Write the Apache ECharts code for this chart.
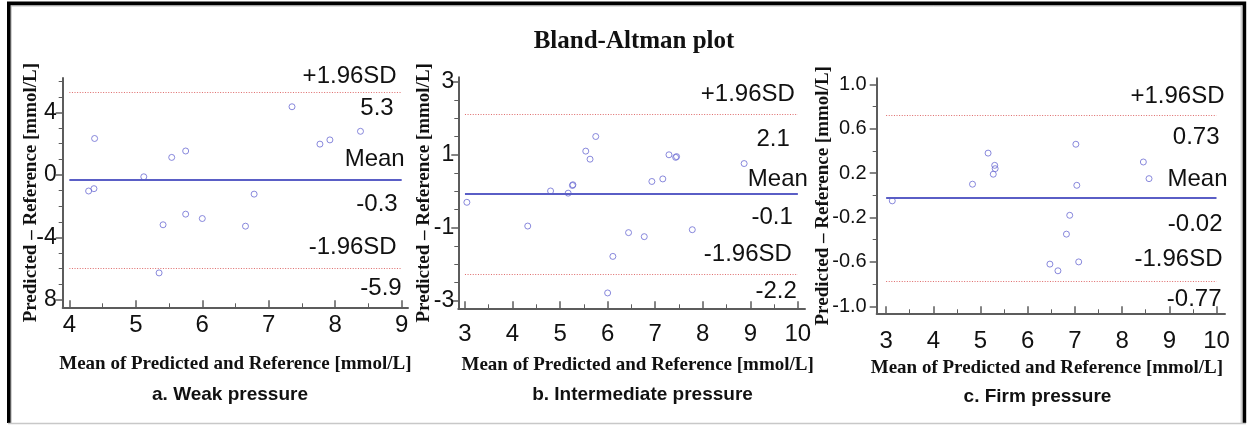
<!DOCTYPE html>
<html><head><meta charset="utf-8">
<script src="https://cdn.jsdelivr.net/npm/echarts@6/dist/echarts.min.js"></script>
<style>html,body{margin:0;padding:0;background:#fff}#c{width:1252px;height:425px}</style>
</head><body><div id="c"></div>
<script>
// ---------- data ----------
const panelTitles = ['a. Weak pressure', 'b. Intermediate pressure', 'c. Firm pressure'];
const limitNames = ['+1.96SD', 'Mean', '-1.96SD'];

const meanA = [4.38, 4.29, 4.37, 5.12, 5.54, 5.75, 5.75, 6.00, 6.78, 7.35, 7.77, 7.92, 8.38, 5.41, 6.65, 5.35];
const diffA = [2.33, -1.03, -0.88, -0.12, 1.12, 1.53, -2.51, -2.79, -1.23, 4.36, 1.97, 2.24, 2.79, -3.19, -3.28, -6.27];
const limitsA = [5.28, -0.32, -5.94];
const limitTextA = ['5.3', '-0.3', '-5.9'];
const xTicksA = [4, 5, 6, 7, 8, 9];
const xMinorA = [4.5, 5.5, 6.5, 7.5, 8.5];
const yTicksA = [4, 0, -4, -8];
const yTickTextA = ['4', '0', '-4', '8'];
const yMinorA = [6, 5, 3, 2, 1, -1, -2, -3, -5, -6, -7];

const meanB = [5.75, 5.54, 5.63, 7.29, 7.43, 7.45, 8.87, 6.93, 7.16, 4.80, 5.17, 5.27, 5.26, 3.04, 4.32, 6.44, 6.77, 7.78, 6.11, 6.00];
const diffB = [1.50, 1.10, 0.88, 1.00, 0.93, 0.95, 0.76, 0.27, 0.34, 0.01, -0.05, 0.18, 0.16, -0.30, -0.95, -1.13, -1.24, -1.05, -1.78, -2.78];
const limitsB = [2.10, -0.07, -2.26];
const limitTextB = ['2.1', '-0.1', '-2.2'];
const xTicksB = [3, 4, 5, 6, 7, 8, 9, 10];
const xMinorB = [3.5, 4.5, 5.5, 6.5, 7.5, 8.5, 9.5];
const yTicksB = [3, 1, -1, -3];
const yTickTextB = ['3', '1', '-1', '-3'];
const yMinorB = [2.5, 2, 1.5, 0.5, 0, -0.5, -1.5, -2, -2.5];

const meanC = [5.16, 5.30, 5.31, 5.27, 4.83, 7.02, 7.04, 8.45, 8.57, 3.13, 6.89, 6.82, 6.47, 6.64, 7.08];
const diffC = [0.38, 0.27, 0.24, 0.19, 0.10, 0.46, 0.09, 0.30, 0.15, -0.05, -0.18, -0.35, -0.62, -0.68, -0.60];
const limitsC = [0.72, -0.02, -0.77];
const limitTextC = ['0.73', '-0.02', '-0.77'];
const xTicksC = [3, 4, 5, 6, 7, 8, 9, 10];
const xMinorC = [3.5, 4.5, 5.5, 6.5, 7.5, 8.5, 9.5];
const yTicksC = [1.0, 0.6, 0.2, -0.2, -0.6, -1.0];
const yTickTextC = ['1.0', '0.6', '0.2', '-0.2', '-0.6', '-1.0'];
const yMinorC = [0.8, 0.4, 0, -0.4, -0.8];

const xName = 'Mean of Predicted and Reference [mmol/L]';
const yName = 'Predicted \u2013 Reference [mmol/L]';

// ---------- layout / style ----------
// label offsets (px): [name above upper, value below upper, name above mean, value below mean, name above lower, value below lower]
const panels = [
  {mean: meanA, diff: diffA, limits: limitsA, limitText: limitTextA, xT: xTicksA, xM: xMinorA, yT: yTicksA, yTT: yTickTextA, yM: yMinorA,
   grid: {left: 62.7, top: 78, width: 345.3, height: 229.3}, xr: [3.90, 9.095], yr: [-8.47, 6.2],
   xLabMargin: 6, yLabMargin: 6, yLabSize: 23, xNameGap: 47, yNameGap: 22, xNamePad: 0, title: [230, 395],
   labOff: [[3, 4], [0, -4], [11, -1], [4, 4], [3, 0], [8, 1]]},
  {mean: meanB, diff: diffB, limits: limitsB, limitText: limitTextB, xT: xTicksB, xM: xMinorB, yT: yTicksB, yTT: yTickTextB, yM: yMinorB,
   grid: {left: 458.3, top: 77.3, width: 346.7, height: 231}, xr: [2.86, 10.15], yr: [-3.2, 3.12],
   xLabMargin: 14, yLabMargin: 4, yLabSize: 23, xNameGap: 47, yNameGap: 25, xNamePad: 12, title: [642.5, 395],
   labOff: [[5, 0], [0, 5], [18, 5], [3, 3], [2, 0], [7, -3]]},
  {mean: meanC, diff: diffC, limits: limitsC, limitText: limitTextC, xT: xTicksC, xM: xMinorC, yT: yTicksC, yTT: yTickTextC, yM: yMinorC,
   grid: {left: 876.7, top: 78.3, width: 348.3, height: 235}, xr: [2.8, 10.18], yr: [-1.063, 1.054],
   xLabMargin: 16, yLabMargin: 10, yLabSize: 20, xNameGap: 45, yNameGap: 44, xNamePad: -8, title: [1037.5, 396.7],
   labOff: [[16, 1], [11, 2], [19, 2], [14, 7], [14, -1], [13, -1]]}
];

const AX = '#5c5c5c';
const TXT = '#111111';
const SANS = '"Liberation Sans", Arial, sans-serif';
const SERIF = '"Liberation Serif", "Times New Roman", serif';

const grids = [], xAxes = [], yAxes = [], series = [], graphics = [];

panels.forEach((p, i) => {
  grids.push(Object.assign({containLabel: false}, p.grid));
  const lookup = (vals, texts) => v => {
    for (let k = 0; k < vals.length; k++) if (Math.abs(vals[k] - v) < 1e-6) return texts[k];
    return '';
  };
  xAxes.push({
    type: 'value', gridIndex: i, min: p.xr[0], max: p.xr[1], position: 'bottom',
    axisLine: {show: true, onZero: false, lineStyle: {color: AX, width: 2}},
    axisTick: {show: true, inside: true, length: 7, customValues: p.xT, lineStyle: {color: AX, width: 1.5}},
    axisLabel: {show: true, customValues: p.xT, margin: p.xLabMargin, fontSize: 24, color: TXT, fontFamily: SANS},
    splitLine: {show: false},
    name: xName, nameLocation: 'middle', nameGap: p.xNameGap, nameMoveOverlap: false,
    nameTextStyle: {fontFamily: SERIF, fontWeight: 'bold', fontSize: 19, color: TXT,
      padding: p.xNamePad >= 0 ? [0, 0, 0, p.xNamePad] : [0, -p.xNamePad, 0, 0]}
  });
  xAxes.push({
    type: 'value', gridIndex: i, min: p.xr[0], max: p.xr[1], position: 'bottom',
    axisLine: {show: false, onZero: false},
    axisTick: {show: true, inside: true, length: 4, customValues: p.xM, lineStyle: {color: AX, width: 1}},
    axisLabel: {show: false}, splitLine: {show: false}
  });
  yAxes.push({
    type: 'value', gridIndex: i, min: p.yr[0], max: p.yr[1], position: 'left',
    axisLine: {show: true, onZero: false, lineStyle: {color: AX, width: 2}},
    axisTick: {show: true, inside: false, length: 7, customValues: p.yT, lineStyle: {color: AX, width: 1.5}},
    axisLabel: {show: true, customValues: p.yT, margin: p.yLabMargin, fontSize: p.yLabSize, color: TXT, fontFamily: SANS,
      formatter: lookup(p.yT, p.yTT)},
    splitLine: {show: false},
    name: yName, nameLocation: 'middle', nameGap: p.yNameGap, nameMoveOverlap: false,
    nameTextStyle: {fontFamily: SERIF, fontWeight: 'bold', fontSize: 19, color: TXT}
  });
  yAxes.push({
    type: 'value', gridIndex: i, min: p.yr[0], max: p.yr[1], position: 'left',
    axisLine: {show: false, onZero: false},
    axisTick: {show: true, inside: false, length: 4, customValues: p.yM, lineStyle: {color: AX, width: 1}},
    axisLabel: {show: false}, splitLine: {show: false}
  });

  const x0 = p.xT[0], x1 = p.xT[p.xT.length - 1];
  const mlData = [];
  p.limits.forEach((v, k) => {
    const isMean = k === 1;
    const ls = isMean ? {color: '#5a5ec6', width: 2, type: 'solid'} : {color: '#de6a6a', width: 1, type: [1, 1.6]};
    const labBase = {show: true, fontSize: 24, color: TXT, fontFamily: SANS, distance: 8};
    const oT = p.labOff[2 * k], oB = p.labOff[2 * k + 1];
    const labTop = Object.assign({}, labBase, {position: 'insideEndTop', formatter: limitNames[k], offset: oT});
    mlData.push([
      {coord: [x0, v], lineStyle: ls, label: labTop},
      {coord: [x1, v], lineStyle: ls, label: labTop}
    ]);
    const hid = {color: 'rgba(255,255,255,0)', width: 0.01, type: 'solid'};
    const labBot = Object.assign({}, labBase, {position: 'insideEndBottom', formatter: p.limitText[k], offset: oB});
    mlData.push([
      {coord: [x0, v], lineStyle: hid, label: labBot},
      {coord: [x1, v], lineStyle: hid, label: labBot}
    ]);
  });

  series.push({
    type: 'scatter', xAxisIndex: 2 * i, yAxisIndex: 2 * i,
    data: p.mean.map((m, k) => [m, p.diff[k]]),
    symbol: 'circle', symbolSize: 6,
    itemStyle: {color: 'rgba(255,255,255,0)', borderColor: '#6b6bd3', borderWidth: 1},
    silent: true, z: 3,
    markLine: {silent: true, symbol: 'none', animation: false, data: mlData}
  });

  graphics.push({type: 'text', x: p.title[0], y: p.title[1],
    style: {text: panelTitles[i], align: 'center', verticalAlign: 'middle', fill: TXT,
      font: 'bold 19px ' + SANS}});
});

graphics.push({type: 'text', x: 634, y: 41.7,
  style: {text: 'Bland-Altman plot', align: 'center', verticalAlign: 'middle', fill: TXT,
    font: 'bold 25px ' + SERIF}});
// frame
graphics.push({type: 'polyline', shape: {points: [[11.2, 423], [11.2, 6], [1241.2, 6], [1241.2, 423]]},
  style: {stroke: '#bdbdbd', lineWidth: 1, fill: null}});
graphics.push({type: 'polyline', shape: {points: [[8.8, 423], [8.8, 3.4], [1244.4, 3.4], [1244.4, 423]]},
  style: {stroke: '#000', lineWidth: 3.6, fill: null}});
graphics.push({type: 'line', shape: {x1: 8, y1: 423.5, x2: 1246, y2: 423.5},
  style: {stroke: '#c8c8c8', lineWidth: 1.5}});

const chart = echarts.init(document.getElementById('c'), null, {renderer: 'canvas'});
chart.setOption({
  animation: false,
  backgroundColor: '#ffffff',
  grid: grids, xAxis: xAxes, yAxis: yAxes, series: series, graphic: graphics
});
</script>
</body></html>
